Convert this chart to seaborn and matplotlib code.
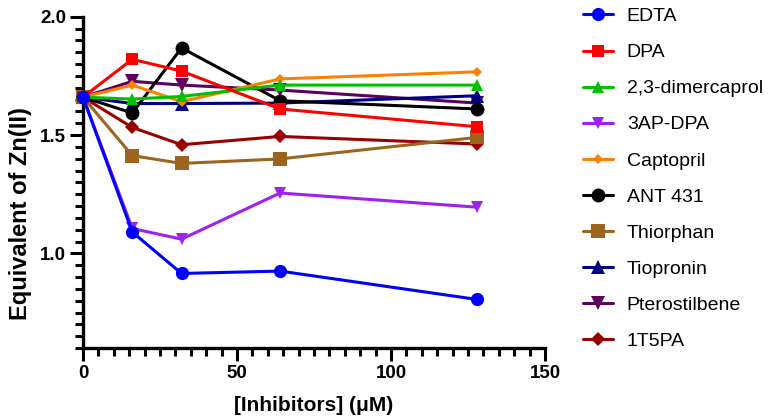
import matplotlib
matplotlib.use("Agg")
import matplotlib.pyplot as plt
import seaborn as sns
import pandas as pd
from matplotlib.ticker import MultipleLocator, FormatStrFormatter

# ---- data ----
concentrations = [0, 16, 32, 64, 128]
compounds = ["EDTA", "DPA", "2,3-dimercaprol", "3AP-DPA", "Captopril",
             "ANT 431", "Thiorphan", "Tiopronin", "Pterostilbene", "1T5PA"]
edta = [1.66, 1.09, 0.915, 0.925, 0.805]
dpa = [1.66, 1.82, 1.77, 1.61, 1.535]
dimercaprol = [1.66, 1.652, 1.663, 1.711, 1.711]
ap_dpa = [1.66, 1.105, 1.06, 1.255, 1.195]
captopril = [1.66, 1.711, 1.641, 1.737, 1.767]
ant431 = [1.66, 1.593, 1.868, 1.645, 1.61]
thiorphan = [1.66, 1.413, 1.38, 1.399, 1.49]
tiopronin = [1.66, 1.633, 1.633, 1.635, 1.666]
pterostilbene = [1.66, 1.727, 1.711, 1.69, 1.635]
t5pa = [1.66, 1.532, 1.459, 1.494, 1.462]
series_values = [edta, dpa, dimercaprol, ap_dpa, captopril,
                 ant431, thiorphan, tiopronin, pterostilbene, t5pa]

colors = ["#0000FF", "#FF0000", "#00C000", "#A020F0", "#FF8000",
          "#000000", "#9B6520", "#000080", "#5C005C", "#990000"]
markers = ["o", "s", "^", "v", "D", "o", "s", "^", "v", "D"]
msizes = [9.5, 8.5, 9, 9, 5.2, 10, 9.8, 10, 10, 6.8]

rows = []
for name, vals in zip(compounds, series_values):
    for xv, yv in zip(concentrations, vals):
        rows.append({"conc": xv, "eq": yv, "compound": name})
df = pd.DataFrame(rows)

sns.set_style("ticks")
plt.rcParams["font.family"] = ["Liberation Sans", "DejaVu Sans"]

fig = plt.figure(figsize=(7.72, 4.19), dpi=100)
ax = fig.add_axes([83 / 772, 1 - 348 / 419, (545 - 83) / 772, (348 - 16.7) / 419])

n = len(compounds)
for i, name in enumerate(compounds):
    sub = df[df["compound"] == name]
    sns.lineplot(data=sub, x="conc", y="eq", ax=ax, color=colors[i],
                 marker=markers[i], markersize=msizes[i], markeredgewidth=0,
                 linewidth=2.2, label=name, zorder=20 + (n - i), clip_on=False)

ax.set_xlim(0, 150)
ax.set_ylim(0.6, 2.0)
ax.xaxis.set_major_locator(MultipleLocator(50))
ax.xaxis.set_minor_locator(MultipleLocator(5))
ax.yaxis.set_major_locator(MultipleLocator(0.5))
ax.yaxis.set_minor_locator(MultipleLocator(0.05))
ax.yaxis.set_major_formatter(FormatStrFormatter("%.1f"))

for s in ["top", "right"]:
    ax.spines[s].set_visible(False)
for s in ["left", "bottom"]:
    ax.spines[s].set_linewidth(2.4)
    ax.spines[s].set_edgecolor("black")
ax.tick_params(which="major", length=9.3, width=2.2, labelsize=13.5, pad=3,
               color="black", labelcolor="black")
ax.tick_params(which="minor", length=5.5, width=2.2, color="black")
for lab in ax.get_xticklabels() + ax.get_yticklabels():
    lab.set_fontweight("bold")

ax.set_xlabel("[Inhibitors] (μM)", fontsize=15, fontweight="bold", labelpad=10,
              color="black")
ax.set_ylabel("Equivalent of Zn(II)", fontsize=17, fontweight="bold", labelpad=6,
              color="black")
ax.yaxis.label.set_y(0.406)

if ax.get_legend():
    ax.get_legend().remove()
handles, labels = ax.get_legend_handles_labels()
leg = fig.legend(handles, labels, loc="upper left", bbox_to_anchor=(573 / 772, 1.005),
                 frameon=False, fontsize=14, labelspacing=0.95, handlelength=1.55,
                 handletextpad=0.72, borderaxespad=0.1)
for t in leg.get_texts():
    t.set_color("black")

fig.savefig("out.png", dpi=100)
